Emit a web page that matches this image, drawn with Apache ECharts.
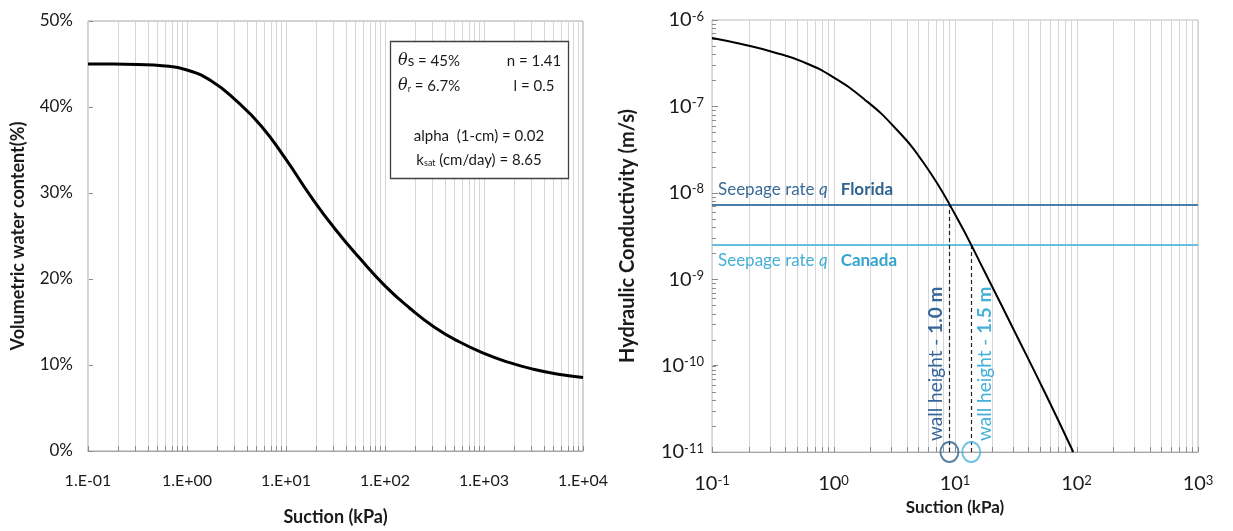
<!DOCTYPE html>
<html>
<head>
<meta charset="utf-8">
<script src="https://cdn.jsdelivr.net/npm/echarts@6/dist/echarts.min.js"></script>
<style>
  html, body { margin: 0; padding: 0; background: #ffffff; }
  #chart { width: 1233px; height: 531px; }
</style>
</head>
<body>
<div id="chart"></div>
<script>
// ---- Water retention curve (left panel): suction in kPa, volumetric water content in %
const retentionSuction = [0.1, 0.178, 0.316, 0.562, 1, 1.78, 3.16, 5.62, 10, 17.8, 31.6, 56.2, 100, 178, 316, 562, 1000, 1780, 3160, 5620, 10000];
const retentionTheta   = [45.0, 45.0, 44.95, 44.8, 44.3, 43.0, 40.7, 37.8, 33.9, 29.6, 25.75, 22.35, 19.2, 16.6, 14.4, 12.7, 11.35, 10.3, 9.5, 8.93, 8.55];

// ---- Hydraulic conductivity curve (right panel): suction in kPa, K in m/s
const conductivitySuction = [0.1, 0.178, 0.316, 0.562, 1, 1.78, 3.16, 5.62, 10, 17.8, 31.6, 56.2, 94];
const conductivityK       = [6.19e-7, 5.24e-7, 4.27e-7, 3.27e-7, 2.17e-7, 1.22e-7, 5.78e-8, 2.14e-8, 5.64e-9, 1.17e-9, 2.34e-10, 4.57e-11, 1.0e-11];

// ---- Seepage rates and the suctions where they meet the conductivity curve
const seepageSites  = ['Florida', 'Canada'];
const seepageRates  = [7.2e-9, 2.5e-9];
const wallSuction   = [9.0, 13.6];
const wallHeights   = ['1.0 m', '1.5 m'];

// ---- Tick labels
const retentionXTicks = ['1.E-01', '1.E+00', '1.E+01', '1.E+02', '1.E+03', '1.E+04'];
const retentionYTicks = ['0%', '10%', '20%', '30%', '40%', '50%'];
const conductivityXExp = ['-1', '0', '1', '2', '3'];
const conductivityYExp = ['-11', '-10', '-9', '-8', '-7', '-6'];

// ---- Van Genuchten parameters shown in the box
const paramLeft  = ['{t|θ}s = 45%', '{t|θ}{sub|r} = 6.7%'];
const paramRight = ['n = 1.41', 'l = 0.5'];
const paramLower = ['alpha  (1-cm) = 0.02', 'k{sub|sat} (cm/day) = 8.65'];

const FONT = 'Lato, "Open Sans", sans-serif';
const TEXT = '#1a1a1a';
const GRIDLINE = '#d6d6d6';
const TICK = '#8c8c8c';
const FLORIDA = '#4a7eaa';
const FLORIDA_TEXT = '#3a6b97';
const CANADA = '#66c1df';
const CANADA_TEXT = '#45afd6';

// log-decade grid positions (1..9 × 10^d)
function logGridValues(fromExp, toExp) {
  const out = [];
  for (let d = fromExp; d < toExp; d++) {
    for (let k = 1; k <= 9; k++) out.push(k * Math.pow(10, d));
  }
  out.push(Math.pow(10, toExp));
  return out;
}

// vertical gridlines with short inside ticks on the bottom axis
function verticalGrid(axisIndex, values, yRef) {
  return {
    type: 'custom', xAxisIndex: axisIndex, yAxisIndex: axisIndex,
    silent: true, z: 1, animation: false,
    data: values.map(v => [v, yRef]),
    encode: { x: 0, y: 1 },
    renderItem(params, api) {
      const cs = params.coordSys;
      const x = Math.round(api.coord([api.value(0), yRef])[0]) + 0.5;
      const bottom = cs.y + cs.height;
      return {
        type: 'group',
        children: [
          { type: 'line', shape: { x1: x, y1: cs.y, x2: x, y2: bottom }, style: { stroke: GRIDLINE, lineWidth: 1 } },
          { type: 'line', shape: { x1: x, y1: bottom, x2: x, y2: bottom - 5 }, style: { stroke: TICK, lineWidth: 1 } }
        ]
      };
    }
  };
}

// short inside ticks on the left axis of the conductivity panel
function leftMinorTicks(axisIndex, values, xRef) {
  return {
    type: 'custom', xAxisIndex: axisIndex, yAxisIndex: axisIndex,
    silent: true, z: 2, animation: false,
    data: values.map(v => [xRef, v]),
    encode: { x: 0, y: 1 },
    renderItem(params, api) {
      const cs = params.coordSys;
      const y = Math.round(api.coord([xRef, api.value(1)])[1]) + 0.5;
      return { type: 'line', shape: { x1: cs.x, y1: y, x2: cs.x + 4, y2: y }, style: { stroke: TICK, lineWidth: 1 } };
    }
  };
}

const chart = echarts.init(document.getElementById('chart'), null, { renderer: 'canvas' });

const supRich = {
  b: { fontSize: 20, fontFamily: FONT, color: TEXT },
  s: { fontSize: 13, fontFamily: FONT, color: TEXT, verticalAlign: 'top', lineHeight: 12 }
};

function seepageLabel(i, position, color, boldColor) {
  return {
    show: true, position, distance: [6, 7],
    formatter: 'Seepage rate {q|q}   {b|' + seepageSites[i] + '}',
    fontSize: 17, fontFamily: FONT, color,
    rich: {
      q: { fontSize: 17, fontFamily: FONT, fontStyle: 'italic', color },
      b: { fontSize: 17, fontFamily: FONT, fontWeight: 'bold', color: boldColor }
    }
  };
}

const option = {
  backgroundColor: '#ffffff',
  animation: false,
  grid: [
    { left: 88, top: 21, width: 495, height: 431, show: true, borderColor: '#a6a6a6', borderWidth: 1, backgroundColor: '#fff' },
    { left: 712, top: 20, width: 486, height: 432, show: true, borderColor: '#bdbdbd', borderWidth: 1, backgroundColor: '#fff' }
  ],
  xAxis: [
    {
      gridIndex: 0, type: 'log', logBase: 10, min: 0.1, max: 10000, splitNumber: 5,
      axisLine: { show: true, lineStyle: { color: '#a6a6a6' } },
      axisTick: { show: false }, splitLine: { show: false },
      axisLabel: {
        fontSize: 16, fontFamily: FONT, color: TEXT, margin: 22,
        formatter: v => retentionXTicks[Math.round(Math.log10(v)) + 1]
      },
      name: 'Suction (kPa)', nameLocation: 'middle', nameGap: 57,
      nameTextStyle: { fontSize: 18, fontWeight: 'bold', fontFamily: FONT, color: TEXT }
    },
    {
      gridIndex: 1, type: 'log', logBase: 10, min: 0.1, max: 1000, splitNumber: 4,
      axisLine: { show: true, lineStyle: { color: '#a6a6a6' } },
      axisTick: { show: false }, splitLine: { show: false },
      axisLabel: {
        margin: 22, rich: supRich,
        formatter: v => '{b|10}{s|' + conductivityXExp[Math.round(Math.log10(v)) + 1] + '}'
      },
      name: 'Suction (kPa)', nameLocation: 'middle', nameGap: 47,
      nameTextStyle: { fontSize: 17, fontWeight: 'bold', fontFamily: FONT, color: TEXT }
    }
  ],
  yAxis: [
    {
      gridIndex: 0, type: 'value', min: 0, max: 50, interval: 10,
      axisLine: { show: true, lineStyle: { color: '#a6a6a6' } },
      axisTick: { show: true, inside: true, length: 5, lineStyle: { color: TICK } },
      splitLine: { show: false },
      axisLabel: {
        fontSize: 17, fontFamily: FONT, color: TEXT, margin: 15,
        formatter: v => retentionYTicks[Math.round(v / 10)]
      },
      name: 'Volumetric water content(%)', nameLocation: 'middle', nameGap: 61, nameRotate: 90,
      nameTextStyle: { fontSize: 18, fontWeight: 'bold', fontFamily: FONT, color: TEXT }
    },
    {
      gridIndex: 1, type: 'log', logBase: 10, min: 1e-11, max: 1e-6, splitNumber: 5,
      axisLine: { show: true, lineStyle: { color: '#a6a6a6' } },
      axisTick: { show: true, inside: true, length: 6, lineStyle: { color: TICK } },
      splitLine: { show: false },
      axisLabel: {
        margin: 8, rich: supRich,
        formatter: v => '{b|10}{s|' + conductivityYExp[Math.round(Math.log10(v)) + 11] + '}'
      },
      name: 'Hydraulic Conductivity (m/s)', nameLocation: 'middle', nameGap: 74, nameRotate: 90,
      nameTextStyle: { fontSize: 20, fontWeight: 'bold', fontFamily: FONT, color: TEXT }
    }
  ],
  series: [
    verticalGrid(0, logGridValues(-1, 4), 10),
    verticalGrid(1, logGridValues(-1, 3), 1e-8),
    leftMinorTicks(1, logGridValues(-11, -6), 1),
    {
      name: 'Water content', type: 'line', xAxisIndex: 0, yAxisIndex: 0, z: 5,
      data: retentionSuction.map((s, i) => [s, retentionTheta[i]]),
      showSymbol: false, smooth: 0.5,
      lineStyle: { color: '#000', width: 3 }
    },
    {
      name: 'Hydraulic conductivity', type: 'line', xAxisIndex: 1, yAxisIndex: 1, z: 5,
      data: conductivitySuction.map((s, i) => [s, conductivityK[i]]),
      showSymbol: false, smooth: 0.5,
      lineStyle: { color: '#000', width: 2 },
      markLine: {
        silent: true, symbol: 'none', animation: false, z: 4, precision: 20,
        data: [
          {
            yAxis: seepageRates[0],
            lineStyle: { color: FLORIDA, width: 2, type: 'solid' },
            label: seepageLabel(0, 'insideStartTop', FLORIDA_TEXT, '#2f6391')
          },
          {
            yAxis: seepageRates[1],
            lineStyle: { color: CANADA, width: 2, type: 'solid' },
            label: seepageLabel(1, 'insideStartBottom', CANADA_TEXT, '#35a3cc')
          },
          [
            { coord: [wallSuction[0], 1e-11], lineStyle: { color: '#222', width: 1.2, type: [4, 3] }, label: { show: false } },
            { coord: [wallSuction[0], seepageRates[0]] }
          ],
          [
            { coord: [wallSuction[1], 1e-11], lineStyle: { color: '#222', width: 1.2, type: [4, 3] }, label: { show: false } },
            { coord: [wallSuction[1], seepageRates[1]] }
          ]
        ]
      }
    },
    {
      name: 'Wall height', type: 'scatter', xAxisIndex: 1, yAxisIndex: 1, z: 6, clip: false,
      symbol: 'circle', symbolSize: [18, 20],
      data: [
        { value: [wallSuction[0], 1e-11], itemStyle: { color: 'rgba(0,0,0,0)', borderColor: '#2f5f8c', borderWidth: 2 } },
        { value: [wallSuction[1], 1e-11], itemStyle: { color: 'rgba(0,0,0,0)', borderColor: '#4cb3d9', borderWidth: 2 } }
      ]
    }
  ]
};

chart.setOption(option);

// Parameter box and wall-height captions
const boxRich = {
  t: { fontSize: 16, fontFamily: '"DejaVu Serif", serif', fontStyle: 'italic', fill: TEXT },
  sub: { fontSize: 9, fontFamily: FONT, fill: TEXT, verticalAlign: 'bottom', lineHeight: 9 }
};
function boxText(text, x, y, align) {
  return {
    type: 'text', x, y, z: 20,
    style: {
      text, rich: boxRich, fill: TEXT, fontSize: 15, fontFamily: FONT,
      align, textAlign: align, verticalAlign: 'middle', textVerticalAlign: 'middle'
    }
  };
}

const w0 = chart.convertToPixel({ xAxisIndex: 1, yAxisIndex: 1 }, [wallSuction[0], 1e-11]);
const w1 = chart.convertToPixel({ xAxisIndex: 1, yAxisIndex: 1 }, [wallSuction[1], 1e-11]);
function wallText(label, px, dx, color) {
  return {
    type: 'text', x: px[0] + dx, y: px[1] - 11, rotation: Math.PI / 2, z: 20,
    style: {
      text: 'wall height - {b|' + label + '}',
      fill: color, fontSize: 19, fontFamily: FONT,
      align: 'left', textAlign: 'left', verticalAlign: 'middle', textVerticalAlign: 'middle',
      rich: { b: { fontSize: 19, fontFamily: FONT, fontWeight: 'bold', fill: color } }
    }
  };
}

chart.setOption({
  graphic: [
    {
      type: 'rect', z: 19,
      shape: { x: 390.5, y: 41.5, width: 178, height: 137 },
      style: { fill: '#fff', stroke: '#404040', lineWidth: 1.3 }
    },
    boxText(paramLeft[0], 398, 61, 'left'),
    boxText(paramLeft[1], 398, 86, 'left'),
    boxText(paramRight[0], 534, 61, 'center'),
    boxText(paramRight[1], 534, 86, 'center'),
    boxText(paramLower[0], 479, 136, 'center'),
    boxText(paramLower[1], 479, 160, 'center'),
    wallText(wallHeights[0], w0, -14, '#35669a'),
    wallText(wallHeights[1], w1, 14, '#45b0d8')
  ]
});
</script>
</body>
</html>
